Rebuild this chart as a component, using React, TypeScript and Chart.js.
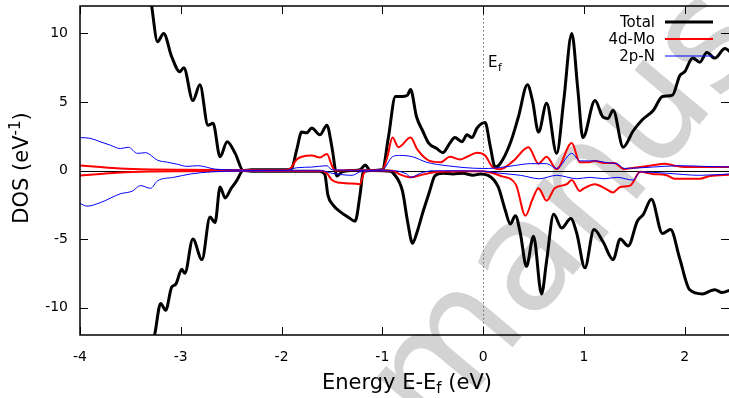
import React, { useEffect, useRef } from "react";
import { Chart, registerables } from "chart.js";
Chart.register(...registerables);

const xTicks = [-4, -3, -2, -1, 0, 1, 2];
const yTicks = [-10, -5, 0, 5, 10];
const legendLabels = ["Total", "4d-Mo", "2p-N"];
const seriesColors = ["#000000", "#ff0000", "#0000ff"];
const seriesWidths = [3, 2, 1];

const totalUpE = [-3.45, -3.3, -3.23, -3.17, -3.09, -3.01, -2.97, -2.88, -2.81, -2.73, -2.68, -2.61, -2.54, -2.46, -2.38, -2.3, -2.1, -1.95, -1.9, -1.85, -1.8, -1.75, -1.7, -1.62, -1.55, -1.5, -1.45, -1.4, -1.3, -1.22, -1.17, -1.12, -1.0, -0.94, -0.87, -0.8, -0.75, -0.72, -0.66, -0.6, -0.54, -0.46, -0.4, -0.33, -0.28, -0.21, -0.16, -0.11, -0.06, 0.02, 0.07, 0.12, 0.17, 0.27, 0.35, 0.44, 0.49, 0.55, 0.63, 0.73, 0.8, 0.88, 0.94, 0.99, 1.11, 1.19, 1.24, 1.29, 1.39, 1.49, 1.58, 1.69, 1.78, 1.88, 1.95, 2.0, 2.08, 2.15, 2.22, 2.3, 2.4, 2.46];
const totalUpV = [16, 12.5, 9.4, 10.0, 8.3, 7.2, 7.5, 5.1, 6.25, 3.3, 3.45, 1.0, 2.1, 1.25, 0.0, 0.05, 0.05, 0.05, 0.15, 1.5, 2.8, 2.75, 3.1, 2.6, 3.3, 1.7, -0.4, -0.1, 0.0, 0.05, 0.4, 0.0, 0.05, 2.4, 5.4, 5.4, 5.5, 5.9, 3.9, 2.9, 2.0, 1.6, 1.3, 2.0, 2.4, 2.1, 2.6, 2.4, 3.1, 3.5, 1.8, 0.25, 0.5, 2.0, 3.9, 6.25, 5.1, 2.8, 4.9, 1.25, 5.1, 10.0, 5.9, 2.4, 5.1, 3.9, 3.8, 4.4, 1.7, 2.9, 3.7, 4.4, 5.4, 5.5, 6.9, 7.2, 8.2, 7.9, 8.6, 8.2, 8.9, 8.6];

const totalDownE = [-3.35, -3.26, -3.2, -3.15, -3.09, -3.05, -2.99, -2.96, -2.88, -2.79, -2.71, -2.66, -2.61, -2.56, -2.5, -2.45, -2.38, -2.3, -1.62, -1.57, -1.54, -1.49, -1.42, -1.34, -1.27, -1.22, -1.19, -1.1, -0.92, -0.89, -0.8, -0.75, -0.7, -0.66, -0.6, -0.53, -0.48, -0.4, -0.3, -0.2, -0.1, -0.03, 0.05, 0.15, 0.22, 0.27, 0.32, 0.37, 0.43, 0.5, 0.58, 0.63, 0.7, 0.78, 0.87, 0.93, 1.01, 1.1, 1.19, 1.29, 1.36, 1.44, 1.53, 1.59, 1.67, 1.78, 1.86, 1.95, 2.05, 2.18, 2.25, 2.3, 2.37, 2.46];
const totalDownV = [-14, -12, -9.7, -10.2, -8.5, -8.3, -7.2, -7.5, -5.0, -6.5, -3.4, -3.8, -1.2, -2.0, -1.3, -0.8, 0.0, -0.05, -0.05, -0.3, -1.8, -2.5, -3.0, -3.4, -3.7, -1.7, -0.1, 0.0, -0.05, -0.2, -1.5, -3.7, -5.3, -4.6, -3.1, -1.5, -0.4, -0.2, -0.25, -0.2, -0.35, -0.25, -0.35, -1.2, -2.9, -3.9, -3.3, -4.6, -7.0, -4.8, -9.0, -6.6, -3.2, -4.2, -3.5, -4.6, -7.1, -4.3, -5.2, -6.5, -5.0, -5.5, -3.7, -3.2, -2.1, -4.6, -4.3, -6.4, -8.7, -9.0, -8.8, -8.7, -8.9, -8.7];

const moUpE = [-4.0, -3.8, -3.6, -3.3, -3.0, -2.5, -2.0, -1.92, -1.85, -1.8, -1.7, -1.62, -1.55, -1.5, -1.47, -1.2, -1.0, -0.95, -0.9, -0.84, -0.72, -0.65, -0.53, -0.42, -0.33, -0.23, -0.16, -0.06, 0.02, 0.1, 0.17, 0.3, 0.45, 0.55, 0.63, 0.73, 0.88, 0.96, 1.05, 1.11, 1.2, 1.3, 1.4, 1.5, 1.6, 1.7, 1.8, 1.9, 2.0, 2.2, 2.46];
const moUpV = [0.37, 0.25, 0.15, 0.08, 0.05, 0.03, 0.02, 0.1, 0.8, 1.0, 1.1, 0.95, 1.2, 0.35, 0.0, 0.02, 0.05, 1.0, 2.4, 1.7, 2.4, 1.5, 0.7, 0.6, 1.0, 0.8, 1.0, 1.3, 1.1, 0.2, 0.1, 0.7, 1.7, 0.5, 1.0, 0.1, 2.0, 0.6, 0.6, 0.7, 0.55, 0.55, 0.1, 0.2, 0.3, 0.4, 0.5, 0.35, 0.25, 0.25, 0.25];

const moDownE = [-4.0, -3.8, -3.6, -3.3, -3.0, -2.5, -1.6, -1.55, -1.5, -1.42, -1.3, -1.22, -1.19, -1.15, -0.9, -0.82, -0.72, -0.6, -0.45, -0.2, 0.0, 0.1, 0.2, 0.27, 0.33, 0.42, 0.49, 0.55, 0.63, 0.71, 0.83, 0.88, 0.96, 1.0, 1.11, 1.21, 1.29, 1.36, 1.46, 1.56, 1.68, 1.82, 1.9, 2.15, 2.25, 2.46];
const moDownV = [-0.37, -0.25, -0.15, -0.08, -0.05, -0.03, -0.03, -0.2, -0.7, -0.9, -0.95, -1.0, -0.3, 0.0, -0.02, -0.3, -0.5, -0.3, -0.1, -0.05, -0.05, -0.2, -0.45, -0.6, -1.1, -3.3, -2.1, -1.3, -2.2, -1.3, -1.0, -0.7, -1.5, -1.3, -1.0, -1.3, -1.6, -1.2, -1.1, -0.1, -0.25, -0.35, -0.6, -0.6, -0.4, -0.3];

const nUpE = [-4.0, -3.9, -3.8, -3.7, -3.6, -3.52, -3.43, -3.35, -3.23, -3.13, -3.03, -2.94, -2.83, -2.66, -2.5, -2.3, -1.95, -1.85, -1.7, -1.55, -1.5, -1.2, -1.0, -0.9, -0.83, -0.7, -0.56, -0.36, 0.0, 0.05, 0.3, 0.47, 0.63, 0.73, 0.88, 0.96, 1.11, 1.25, 1.33, 1.4, 1.68, 1.95, 2.2, 2.46];
const nUpV = [2.4, 2.35, 2.1, 1.85, 1.6, 1.7, 1.25, 1.3, 0.75, 0.6, 0.45, 0.3, 0.35, 0.1, 0.05, 0.02, 0.02, 0.2, 0.25, 0.35, 0.05, 0.02, 0.05, 1.0, 1.1, 1.0, 0.6, 0.35, 0.15, 0.15, 0.35, 0.5, 0.5, 0.15, 1.25, 0.7, 0.7, 0.55, 0.5, 0.15, 0.25, 0.35, 0.3, 0.25];

const nDownE = [-4.0, -3.93, -3.8, -3.6, -3.48, -3.4, -3.3, -3.23, -3.07, -2.9, -2.7, -2.5, -1.6, -1.5, -1.3, -1.2, -0.9, -0.76, -0.72, -0.62, -0.5, 0.0, 0.17, 0.37, 0.56, 0.73, 0.93, 1.06, 1.2, 1.33, 1.49, 1.56, 1.82, 2.15, 2.46];
const nDownV = [-2.4, -2.6, -2.35, -1.7, -1.5, -1.1, -1.3, -0.75, -0.5, -0.25, -0.1, -0.05, -0.02, -0.2, -0.35, -0.05, -0.02, -0.25, -0.5, -0.2, -0.02, -0.05, -0.2, -0.35, -0.6, -0.35, -0.6, -0.5, -0.6, -0.5, -0.7, -0.1, -0.2, -0.35, -0.25];

const FONT = "'DejaVu Sans', Verdana, sans-serif";

function pts(e: number[], v: number[]) {
  return e.map((x, i) => ({ x, y: v[i] }));
}

export default function App() {
  const ref = useRef<HTMLCanvasElement>(null);

  useEffect(() => {
    document.body.style.margin = "0";
    const canvas = ref.current;
    if (!canvas) return;

    const gnu = {
      id: "gnu",
      beforeDatasetsDraw(chart: any) {
        const ctx = chart.ctx as CanvasRenderingContext2D;
        const a = chart.chartArea;
        const xs = chart.scales.x;
        const ys = chart.scales.y;
        // watermark
        ctx.save();
        ctx.fillStyle = "#d3d3d3";
        ctx.font = `155px ${FONT}`;
        ctx.textBaseline = "alphabetic";
        ctx.translate(433, 442);
        ctx.rotate((-50 * Math.PI) / 180);
        ctx.fillText("manuscript", 0, 0);
        ctx.restore();
        // zero axis
        ctx.save();
        const y0 = Math.round(ys.getPixelForValue(0)) + 0.5;
        ctx.strokeStyle = "#000";
        ctx.lineWidth = 1;
        ctx.beginPath();
        ctx.moveTo(a.left, y0);
        ctx.lineTo(a.right, y0);
        ctx.stroke();
        // Fermi level
        const x0 = Math.round(xs.getPixelForValue(0)) + 0.5;
        ctx.strokeStyle = "#666";
        ctx.setLineDash([1.5, 2.5]);
        ctx.beginPath();
        ctx.moveTo(x0, a.top);
        ctx.lineTo(x0, a.bottom);
        ctx.stroke();
        ctx.restore();
      },
      afterDatasetsDraw(chart: any) {
        const ctx = chart.ctx as CanvasRenderingContext2D;
        const a = chart.chartArea;
        const xs = chart.scales.x;
        const ys = chart.scales.y;
        ctx.save();
        // frame
        ctx.strokeStyle = "#000";
        ctx.lineWidth = 1.5;
        ctx.beginPath();
        ctx.moveTo(a.right + 2, a.top);
        ctx.lineTo(a.left, a.top);
        ctx.lineTo(a.left, a.bottom);
        ctx.lineTo(a.right + 2, a.bottom);
        ctx.stroke();
        // inward ticks, mirrored
        ctx.lineWidth = 1;
        ctx.beginPath();
        for (const v of xTicks) {
          const px = Math.round(xs.getPixelForValue(v)) + 0.5;
          ctx.moveTo(px, a.bottom);
          ctx.lineTo(px, a.bottom - 8);
          ctx.moveTo(px, a.top);
          ctx.lineTo(px, a.top + 8);
        }
        for (const v of yTicks) {
          const py = Math.round(ys.getPixelForValue(v)) + 0.5;
          ctx.moveTo(a.left, py);
          ctx.lineTo(a.left + 8, py);
          ctx.moveTo(a.right, py);
          ctx.lineTo(a.right - 8, py);
        }
        ctx.stroke();

        // legend
        ctx.fillStyle = "#000";
        ctx.font = `15px ${FONT}`;
        ctx.textAlign = "right";
        ctx.textBaseline = "alphabetic";
        legendLabels.forEach((lab, i) => {
          const base = 27 + i * 17;
          ctx.fillText(lab, 655, base);
          const ly = 22 + i * 17;
          ctx.strokeStyle = seriesColors[i];
          ctx.lineWidth = seriesWidths[i];
          ctx.beginPath();
          ctx.moveTo(665, ly);
          ctx.lineTo(713, ly);
          ctx.stroke();
        });

        // E_f label
        ctx.fillStyle = "#000";
        ctx.textAlign = "left";
        const xf = xs.getPixelForValue(0) + 5;
        ctx.font = `15px ${FONT}`;
        ctx.fillText("E", xf, 67);
        const we = ctx.measureText("E").width;
        ctx.font = `11px ${FONT}`;
        ctx.fillText("f", xf + we + 0.5, 71);

        // x title
        const big = 21;
        const small = 15;
        ctx.font = `${big}px ${FONT}`;
        const p1 = "Energy E-E";
        const p3 = " (eV)";
        const w1 = ctx.measureText(p1).width;
        const w3 = ctx.measureText(p3).width;
        ctx.font = `${small}px ${FONT}`;
        const w2 = ctx.measureText("f").width;
        const total = w1 + w2 + w3;
        const cx = 407;
        const sx = cx - total / 2;
        ctx.font = `${big}px ${FONT}`;
        ctx.fillText(p1, sx, 389);
        ctx.font = `${small}px ${FONT}`;
        ctx.fillText("f", sx + w1, 393);
        ctx.font = `${big}px ${FONT}`;
        ctx.fillText(p3, sx + w1 + w2, 389);

        // y title
        ctx.save();
        ctx.translate(28, 168);
        ctx.rotate(-Math.PI / 2);
        ctx.font = `${big}px ${FONT}`;
        const q1 = "DOS (eV";
        const q3 = ")";
        const v1 = ctx.measureText(q1).width;
        const v3 = ctx.measureText(q3).width;
        ctx.font = `${small}px ${FONT}`;
        const v2 = ctx.measureText("-1").width;
        const tot = v1 + v2 + v3;
        const ty = -tot / 2;
        ctx.font = `${big}px ${FONT}`;
        ctx.fillText(q1, ty, 0);
        ctx.font = `${small}px ${FONT}`;
        ctx.fillText("-1", ty + v1, -8);
        ctx.font = `${big}px ${FONT}`;
        ctx.fillText(q3, ty + v1 + v2, 0);
        ctx.restore();

        ctx.restore();
      },
    };

    const mk = (label: string, e: number[], v: number[], i: number) => ({
      label,
      data: pts(e, v),
      showLine: true,
      borderColor: seriesColors[i],
      backgroundColor: seriesColors[i],
      borderWidth: seriesWidths[i],
      pointRadius: 0,
      pointHoverRadius: 0,
      cubicInterpolationMode: "monotone" as const,
      fill: false,
    });

    const chart = new Chart(canvas, {
      type: "scatter",
      data: {
        datasets: [
          mk("2p-N up", nUpE, nUpV, 2),
          mk("2p-N down", nDownE, nDownV, 2),
          mk("4d-Mo up", moUpE, moUpV, 1),
          mk("4d-Mo down", moDownE, moDownV, 1),
          mk("Total up", totalUpE, totalUpV, 0),
          mk("Total down", totalDownE, totalDownV, 0),
        ],
      },
      options: {
        animation: false,
        responsive: false,
        devicePixelRatio: 1,
        events: [],
        layout: { padding: { top: 6, right: 0, left: 0, bottom: 0 } },
        plugins: { legend: { display: false }, tooltip: { enabled: false } },
        scales: {
          x: {
            type: "linear",
            min: -4,
            max: 2.44,
            afterBuildTicks: (s: any) => {
              s.ticks = xTicks.map((v) => ({ value: v }));
            },
            afterFit: (s: any) => {
              s.height = 63;
              s.paddingLeft = 0;
              s.paddingRight = 0;
            },
            grid: { display: false, drawTicks: false },
            border: { display: false },
            ticks: {
              padding: 14,
              color: "#000",
              font: { family: FONT, size: 14 },
              maxRotation: 0,
              autoSkip: false,
              callback: (v: any) => String(v),
            },
          },
          y: {
            type: "linear",
            min: -12,
            max: 12,
            afterBuildTicks: (s: any) => {
              s.ticks = yTicks.map((v) => ({ value: v }));
            },
            afterFit: (s: any) => {
              s.width = 80;
              s.paddingTop = 0;
              s.paddingBottom = 0;
            },
            grid: { display: false, drawTicks: false },
            border: { display: false },
            ticks: {
              padding: 12,
              color: "#000",
              font: { family: FONT, size: 14 },
              autoSkip: false,
              callback: (v: any) => String(v),
            },
          },
        },
      },
      plugins: [gnu],
    });
    return () => chart.destroy();
  }, []);

  return (
    <div style={{ position: "absolute", left: 0, top: 0, width: 729, height: 398, background: "#fff" }}>
      <canvas ref={ref} width={729} height={398} style={{ display: "block" }} />
    </div>
  );
}
